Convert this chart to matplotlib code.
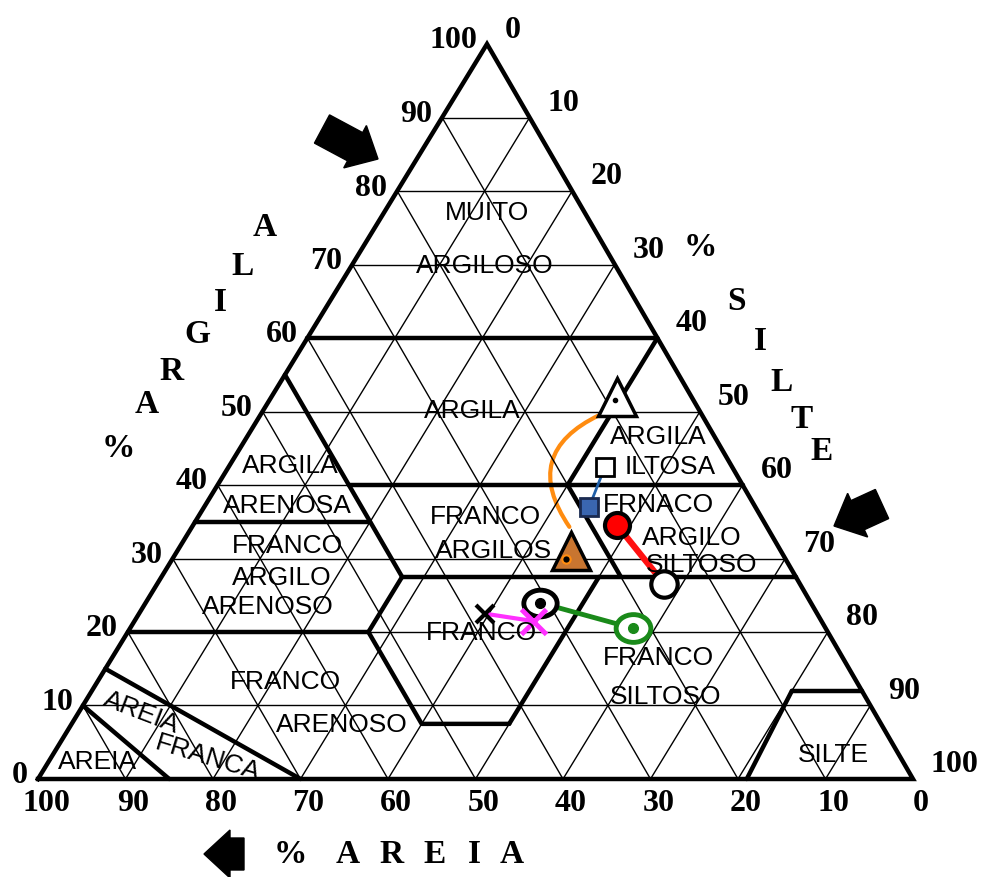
import numpy as np
import matplotlib
matplotlib.use('Agg')
from matplotlib import pyplot as plt, patches
from matplotlib.path import Path
from matplotlib.transforms import Affine2D

# samples (percent)
sample_sand = [8.5, 24, 14.5, 19, 17, 15.5, 31, 22, 38, 33]
sample_silt = [39.5, 45, 43, 44, 48.5, 58, 45, 57.5, 39.5, 45.5]
sample_clay = [52, 31, 42.5, 37, 34.5, 26.5, 24, 20.5, 22.5, 21.5]

# class boundaries as (sand, clay) polylines
boundaries = [
    [(40, 60), (0, 60)],
    [(0, 60), (20, 40)],
    [(45, 40), (0, 40)],
    [(45, 55), (45, 27.5)],
    [(65, 35), (45, 35)],
    [(45, 27.5), (52.5, 20)],
    [(80, 20), (52.5, 20)],
    [(52.5, 20), (52.5, 7.5), (42.5, 7.5)],
    [(42.5, 7.5), (22.5, 27.5)],
    [(45, 27.5), (0, 27.5)],
    [(20, 40), (20, 27.5)],
    [(8, 12), (19, 0)],
    [(8, 12), (0, 12)],
    [(85, 15), (70, 0)],
    [(90, 10), (85, 0)],
]

ticks = [0, 10, 20, 30, 40, 50, 60, 70, 80, 90, 100]

class_names = ['MUITO', 'ARGILOSO', 'ARGILA', 'ARGILA', 'ILTOSA', 'FRNACO',
               'ARGILO', 'SILTOSO', 'FRANCO', 'ARGILOS', 'FRANCO', 'FRANCO',
               'SILTOSO', 'SILTE', 'ARGILA', 'ARENOSA', 'FRANCO', 'ARGILO',
               'ARENOSO', 'FRANCO', 'ARENOSO', 'AREIA']
class_pos = [(487, 213), (485, 266), (472, 411), (658, 437), (670, 467),
             (658, 505), (692, 538), (702, 565), (485, 517), (494, 551),
             (481, 633), (658, 658), (666, 697), (833, 755), (290, 466),
             (287, 506), (287, 546), (282, 578), (268, 607), (285, 682),
             (342, 725), (98, 762)]

fig = plt.figure(figsize=(9.82, 8.78), dpi=100)
ax = fig.add_axes([0, 0, 1, 1])
ax.set_xlim(0, 982)
ax.set_ylim(878, 0)
ax.axis('off')

# (silt, clay) -> image pixels
tern_aff = Affine2D.from_values(8.75, 0, 4.49, -7.35, 38, 780)
tern = tern_aff + ax.transData


def px(silt, clay):
    return tern_aff.transform((silt, clay))


# thin grid
for v in ticks[1:-1]:
    ax.plot([0, 100 - v], [v, v], color='black', lw=1.0, transform=tern)
    ax.plot([v, v], [0, 100 - v], color='black', lw=1.0, transform=tern)
    ax.plot([100 - v, 0], [0, 100 - v], color='black', lw=1.0, transform=tern)

# outer frame
ax.plot([0, 100, 0, 0], [0, 0, 100, 0], color='black', lw=3.2,
        transform=tern, solid_joinstyle='miter')

for line in boundaries:
    sand = np.array([p[0] for p in line])
    clay = np.array([p[1] for p in line])
    ax.plot(100 - sand - clay, clay, color='black', lw=3.2, transform=tern,
            solid_capstyle='round')

# tick labels
tick_font = dict(family='Liberation Serif', weight='bold', fontsize=23)
for v in ticks:
    x, y = px(0, v)
    ax.text(x - 10, y - 4, str(v), ha='right', va='center', **tick_font)
    x, y = px(v, 100 - v)
    ax.text(x + 18, y - 15, str(v), ha='left', va='center', **tick_font)
    x, y = px(100 - v, 0)
    ax.text(x + 8, y + 24, str(v), ha='center', va='center', **tick_font)

# axis titles
title_font = dict(family='Liberation Serif', weight='bold', fontsize=24,
                  ha='center', va='center')
for ch, (x, y) in zip('ALIGRA%', [(265, 228), (243, 267), (220, 303),
                                  (197, 335), (172, 372), (147, 405),
                                  (118, 449)]):
    ax.text(x, y, ch, **title_font)
for ch, (x, y) in zip('%SILTE', [(700, 248), (737, 302), (760, 342),
                                 (782, 383), (802, 420), (822, 452)]):
    ax.text(x, y, ch, **title_font)
for ch, x in zip('%AREIA', [290, 348, 392, 435, 474, 512]):
    ax.text(x, 855, ch, **title_font)

# class labels
label_font = dict(family='Liberation Sans', fontsize=19, ha='center',
                  va='center')
for name, (x, y) in zip(class_names, class_pos):
    ax.text(x, y, name, **label_font)
ax.text(141, 713, 'AREIA', rotation=-21, **label_font)
ax.text(208, 758, 'FRANCA', rotation=-17, **label_font)

# decorative arrows
for x0, y0, dx, dy in [(322, 130, 56, 30), (882, 505, -48, 22),
                       (244, 855, -40, 0)]:
    ax.add_patch(patches.FancyArrow(x0, y0, dx, dy, width=32, head_width=48,
                                    head_length=26, length_includes_head=True,
                                    color='black'))

# sample connections
silt = sample_silt
clay = sample_clay
start = px(silt[0], clay[0]) + np.array([-15, 17])
end = px(silt[1], clay[1]) + np.array([0, -22])
ax.add_patch(patches.FancyArrowPatch(start, end,
                                     connectionstyle='arc3,rad=0.6',
                                     arrowstyle='-', color='#ff8c10', lw=3))
ax.plot([silt[2], silt[3]], [clay[2], clay[3]], color='#1f5fa8', lw=2,
        transform=tern)
ax.plot([silt[4], silt[5]], [clay[4], clay[5]], color='#ff1010', lw=4.5,
        transform=tern)
ax.plot([silt[6], silt[7]], [clay[6], clay[7]], color='#1a8a1a', lw=3.5,
        transform=tern)
ax.plot([silt[8], silt[9]], [clay[8], clay[9]], color='#ff30ff', lw=3,
        transform=tern)

ellipse = Path.unit_circle().transformed(Affine2D().scale(1.25, 1))

# sample markers
ax.plot(silt[0], clay[0], marker='^', ms=27, mfc='white', mec='black',
        mew=2.5, transform=tern)
ax.plot(silt[1], clay[1], marker='^', ms=27, mfc='#c87530', mec='black',
        mew=2.5, transform=tern)
ax.plot(silt[1], clay[1] - 1, marker='o', ms=6, mfc='black', mec='#ff8c10',
        mew=1.5, transform=tern)
ax.plot(silt[0], clay[0] - 0.5, marker='o', ms=3, color='black',
        transform=tern)
ax.plot(silt[2], clay[2], marker='s', ms=13, mfc='white', mec='black',
        mew=2, transform=tern)
ax.plot(silt[3], clay[3], marker='s', ms=13, mfc='#3a66b0', mec='#1a2a50',
        mew=2, transform=tern)
ax.plot(silt[4], clay[4], marker='o', ms=18, mfc='#ff0000', mec='black',
        mew=3, transform=tern)
ax.plot(silt[5], clay[5], marker='o', ms=19, mfc='white', mec='black',
        mew=3, transform=tern)
ax.plot(silt[6], clay[6], marker=ellipse, ms=24, mfc='white', mec='black',
        mew=3.5, transform=tern)
ax.plot(silt[6], clay[6], marker='o', ms=7, color='black', transform=tern)
ax.plot(silt[7], clay[7], marker=ellipse, ms=25, mfc='white', mec='#1a8a1a',
        mew=3.5, transform=tern)
ax.plot(silt[7], clay[7], marker='o', ms=7, color='#1a8a1a', transform=tern)
ax.plot(silt[8], clay[8], marker='x', ms=13, mew=3, color='black',
        transform=tern)
ax.plot(silt[9], clay[9], marker='x', ms=18, mew=3.5, color='#ff30ff',
        transform=tern)

fig.savefig('out.png', dpi=100, facecolor='white')
